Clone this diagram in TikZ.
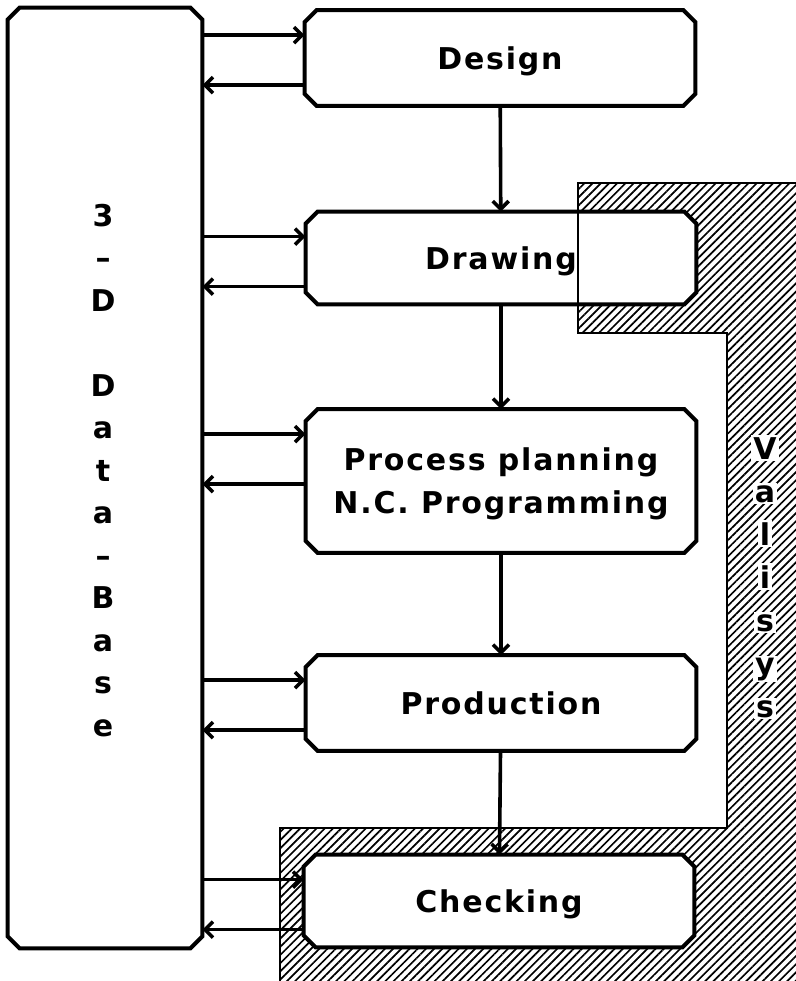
\documentclass[tikz,border=0pt]{standalone}
\usepackage{fontspec}
\setmainfont{DejaVu Sans}
\newfontfamily\boxfont[LetterSpace=6]{DejaVu Sans}
\usetikzlibrary{arrows.meta,calc,backgrounds,patterns.meta}
\tikzset{
  stage/.style={align=center,inner sep=0pt,minimum width=195pt,text depth=0pt,
                font=\fontsize{15}{21.5}\boxfont\bfseries},
  dbbox/.style={stage,minimum width=97pt,minimum height=470pt},
  boxline/.style={draw,line width=2pt,fill=white},
  letter/.style={font=\fontsize{15}{18}\boxfont\bfseries,anchor=base,inner sep=1pt},
  flow/.style={-{Straight Barb[length=4pt,width=8pt]},line width=1.8pt},
  hatched/.style={pattern={Lines[angle=45,distance=2.9pt,line width=0.85pt]}},
  hatchline/.style={line width=0.8pt},
}

\begin{document}
\begin{tikzpicture}[x=0.5pt,y=-0.5pt]
  \useasboundingbox (0,0) rectangle (796,981);

  % area covered by Valisys
  \begin{scope}[on background layer]
    \fill[hatched] (578,183) -- (796,183) -- (796,981) -- (280,981) -- (280,828)
      -- (727,828) -- (727,333) -- (578,333) -- cycle;
  \end{scope}

  \node[dbbox] (db) at (105,478) {};
  \node[stage,minimum height=47.5pt] (design)   at (500,58)  {Design};
  \node[stage,minimum height=46pt]   (drawing)  at (501,258) {Drawing};
  \node[stage,minimum height=71.5pt] (procplan) at (501,481) {Process planning\\N.C. Programming};
  \node[stage,minimum height=47.5pt] (prod)     at (501,703) {Production};
  \node[stage,minimum height=46pt]   (check)    at (499,901) {Checking};

  % chamfered outlines
  \begin{scope}[on background layer]
    \foreach \n in {db,design,drawing,procplan,prod,check}
      \draw[boxline] ([xshift=6pt]\n.north west) -- ([xshift=-6pt]\n.north east)
        -- ([yshift=-6pt]\n.north east) -- ([yshift=6pt]\n.south east)
        -- ([xshift=-6pt]\n.south east) -- ([xshift=6pt]\n.south west)
        -- ([yshift=6pt]\n.south west) -- ([yshift=-6pt]\n.north west) -- cycle;
  \end{scope}

  \draw[hatchline] (796,183) -- (578,183) -- (578,333) -- (727,333)
    -- (727,828) -- (280,828) -- (280,981);

  % links to and from the data base
  \foreach \n in {design,drawing,procplan,prod,check}{
    \coordinate (in-\n)  at ($(\n.north)+(0,25)$);
    \coordinate (out-\n) at ($(\n.north)+(0,75)$);
    \draw[flow] (db.east |- in-\n) -- (\n.west |- in-\n);
    \draw[flow] (\n.west |- out-\n) -- (db.east |- out-\n);
  }

  \draw[flow] (design) -- (drawing);
  \draw[flow] (drawing) -- (procplan);
  \draw[flow] (procplan) -- (prod);
  \draw[flow] (prod) -- (check);

  % vertical labels
  \foreach \c [count=\i] in {3,–,D,{},D,a,t,a,–,B,a,s,e}
    \node[letter] (db-\i) at (103,{215+42.5*(\i-1)+11}) {\c};
  \foreach \c [count=\i] in {V,a,l,i,s,y,s}
    \node[letter,fill=white] (vs-\i) at (765,{448+43*(\i-1)+11}) {\c};
\end{tikzpicture}
\end{document}
